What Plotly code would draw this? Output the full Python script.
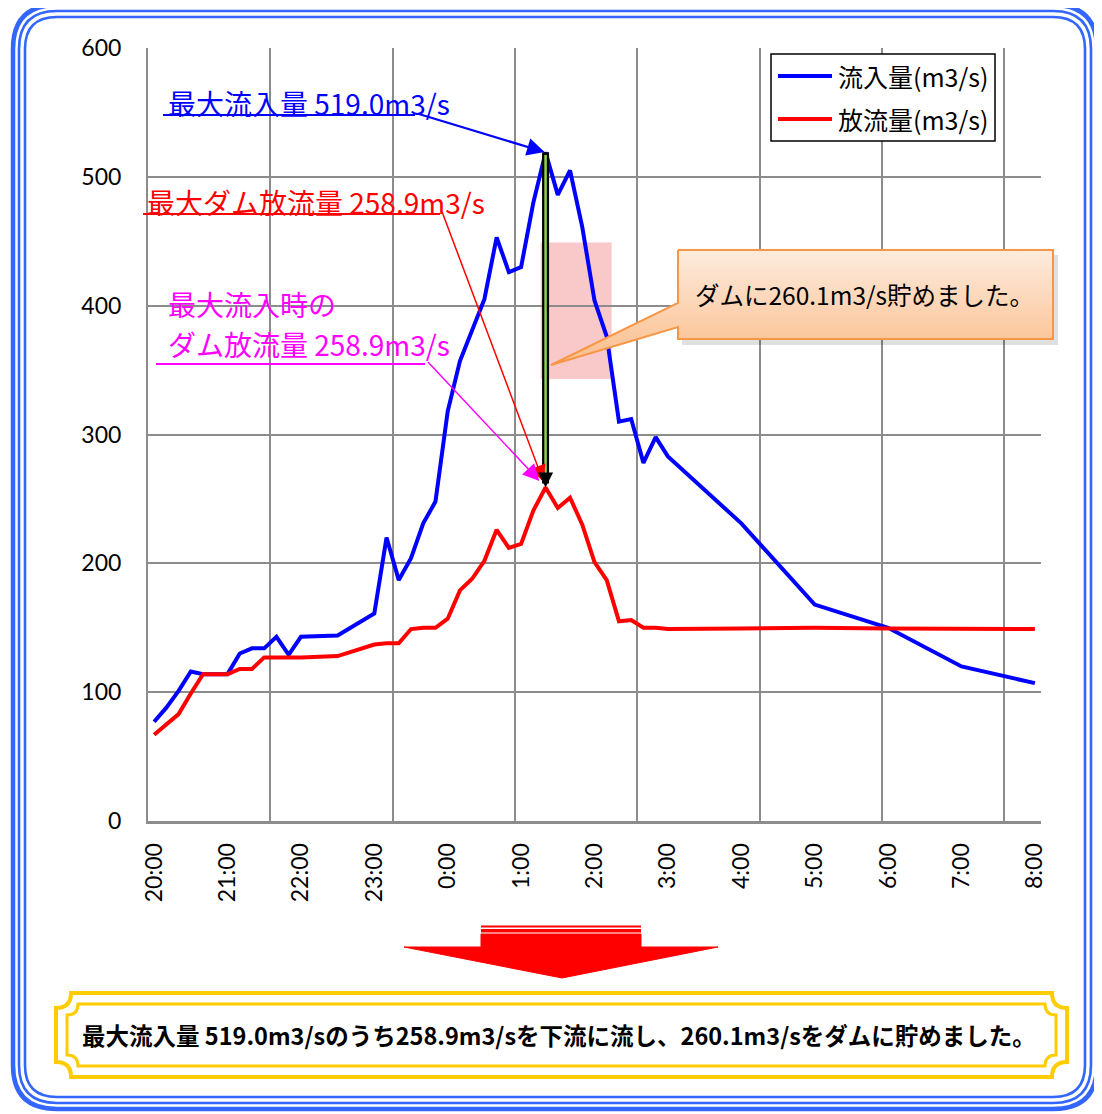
import plotly.graph_objects as go

# ---------------- data ----------------
times = ["20:00", "20:10", "20:20", "20:30", "20:40", "20:50", "21:00", "21:10", "21:20", "21:30",
         "21:40", "21:50", "22:00", "22:30", "23:00", "23:10", "23:20", "23:30", "23:40", "23:50",
         "0:00", "0:10", "0:20", "0:30", "0:40", "0:50", "1:00", "1:10", "1:20", "1:30",
         "1:40", "1:50", "2:00", "2:10", "2:20", "2:30", "2:40", "2:50", "3:00", "4:00",
         "5:00", "6:00", "7:00", "8:00"]
inflow = [77, 88, 101, 116, 114, 114, 114, 130, 134, 134,
          143, 129, 143, 144, 161, 220, 187, 204, 231, 248,
          318, 357, 380, 405, 453, 426, 430, 480, 519.0, 486,
          505, 461, 404, 376, 310, 312, 278, 298, 283, 231,
          168, 150, 120, 107]
outflow = [67, 75, 83, 99, 114, 114, 114, 118, 118, 127,
           127, 127, 127, 128, 137, 138, 138, 149, 150, 150,
           157, 179, 188, 202, 226, 212, 215, 241, 258.9, 243,
           251, 230, 201, 187, 155, 156, 150, 150, 149, 149.5,
           150, 149.5, 149.5, 149]
hour_labels = ["20:00", "21:00", "22:00", "23:00", "0:00", "1:00", "2:00",
               "3:00", "4:00", "5:00", "6:00", "7:00", "8:00"]
y_ticks = [0, 100, 200, 300, 400, 500, 600]
series_names = ["流入量(m3/s)", "放流量(m3/s)"]


def minutes_after_start(t):
    h, m = map(int, t.split(":"))
    return ((h - 20) % 24) * 60 + m


x_min = [minutes_after_start(t) for t in times]
hour_x = [minutes_after_start(t) for t in hour_labels]
grid_x = [-5 + 100 * k for k in range(8)]

peak_i = max(range(len(inflow)), key=lambda i: inflow[i])
peak_t = x_min[peak_i]
peak_in = inflow[peak_i]
peak_out = outflow[peak_i]

# ---------------- layout geometry (window pixels) ----------------
W, H = 1102, 1114          # browser window
OFF = 8                    # default page margin before the figure
FW, FH = W - OFF, H - OFF  # figure size
PL, PR, PT, PB = 148, 1041, 48, 821
CJK = "Noto Sans CJK JP"
GRID = "#8c8c8c"

fig = go.Figure()

fig.add_trace(go.Scatter(x=x_min, y=inflow, mode="lines", name=series_names[0],
                         line=dict(color="#0000ff", width=4), showlegend=False))
fig.add_trace(go.Scatter(x=x_min, y=outflow, mode="lines", name=series_names[1],
                         line=dict(color="#ff0000", width=4), showlegend=False))

# ---------- decoration layer (window-pixel coordinates on a full-figure subplot) ----------
fig.add_trace(go.Scatter(
    x=[682, 1058, 1058, 682, 682], y=[255, 255, 345, 345, 255],
    xaxis="x2", yaxis="y2", mode="lines", fill="toself",
    fillcolor="rgba(0,0,0,0.12)", line=dict(width=0), hoverinfo="skip", showlegend=False))
fig.add_trace(go.Scatter(
    x=[678, 1053, 1053, 678, 678, 551, 678, 678],
    y=[250, 250, 339, 339, 327, 365, 303, 250],
    xaxis="x2", yaxis="y2", mode="lines", fill="toself",
    fillgradient=dict(type="vertical",
                      colorscale=[[0, "#fbbd8a"], [1, "#fdebdd"]]),
    line=dict(color="#f79646", width=2), hoverinfo="skip", showlegend=False))
fig.add_trace(go.Scatter(
    x=[481, 641, 641, 718, 562, 404, 481, 481],
    y=[934, 934, 947, 947, 978, 947, 947, 934],
    xaxis="x2", yaxis="y2", mode="lines", fill="toself", fillcolor="#ff0000",
    line=dict(color="#ff0000", width=1), hoverinfo="skip", showlegend=False))

shapes = []


def rrect(x0, y0, x1, y1, r):
    return (f"M{x0+r},{y0} L{x1-r},{y0} Q{x1},{y0} {x1},{y0+r} L{x1},{y1-r} "
            f"Q{x1},{y1} {x1-r},{y1} L{x0+r},{y1} Q{x0},{y1} {x0},{y1-r} "
            f"L{x0},{y0+r} Q{x0},{y0} {x0+r},{y0} Z")


def notched(x0, y0, x1, y1, r):
    return (f"M{x0+r},{y0} L{x1-r},{y0} Q{x1-r},{y0+r} {x1},{y0+r} L{x1},{y1-r} "
            f"Q{x1-r},{y1-r} {x1-r},{y1} L{x0+r},{y1} Q{x0+r},{y1-r} {x0},{y1-r} "
            f"L{x0},{y0+r} Q{x0+r},{y0+r} {x0+r},{y0} Z")


BLUE_FRAME = "#3366ff"
for (d, r, w) in [(0, 44, 4.5), (6, 38, 2.6), (12, 32, 2.6)]:
    shapes.append(dict(type="path", xref="x2", yref="y2",
                       path=rrect(13 + d, 5 + d, 1097 - d, 1109 - d, r),
                       line=dict(color=BLUE_FRAME, width=w)))

shapes.append(dict(type="path", xref="x2", yref="y2", path=notched(56, 993, 1067, 1077, 15),
                   line=dict(color="#ffcc00", width=4), fillcolor="white"))
shapes.append(dict(type="path", xref="x2", yref="y2", path=notched(67, 1004, 1056, 1066, 11),
                   line=dict(color="#ffcc00", width=3)))

shapes.append(dict(type="rect", xref="x2", yref="y2", x0=481, x1=641, y0=925.5, y1=927.5,
                   fillcolor="#ff0000", line=dict(width=0)))
shapes.append(dict(type="rect", xref="x2", yref="y2", x0=481, x1=641, y0=929, y1=932.5,
                   fillcolor="#ff0000", line=dict(width=0)))

shapes.append(dict(type="rect", xref="x", yref="y", x0=peak_t - 4, x1=peak_t + 54,
                   y0=343, y1=449, fillcolor="#f9c9c9", line=dict(width=0), layer="below"))

shapes.append(dict(type="line", xref="x", yref="y", x0=peak_t, x1=peak_t,
                   y0=peak_in, y1=peak_out + 3, line=dict(color="black", width=7)))
shapes.append(dict(type="line", xref="x", yref="y", x0=peak_t, x1=peak_t,
                   y0=peak_in - 2, y1=peak_out + 5, line=dict(color="#92d050", width=2.5)))

shapes.append(dict(type="line", xref="x2", yref="y2", x0=163, x1=415, y0=115, y1=115,
                   line=dict(color="#0000ff", width=2)))
shapes.append(dict(type="line", xref="x2", yref="y2", x0=143, x1=440, y0=214, y1=214,
                   line=dict(color="#ff0000", width=2)))
shapes.append(dict(type="line", xref="x2", yref="y2", x0=156, x1=425, y0=364, y1=364,
                   line=dict(color="#ff00ff", width=2)))

shapes.append(dict(type="rect", xref="x2", yref="y2", x0=771, x1=995, y0=54, y1=141,
                   fillcolor="white", line=dict(color="black", width=1.5)))
shapes.append(dict(type="line", xref="x2", yref="y2", x0=778, x1=832, y0=76, y1=76,
                   line=dict(color="#0000ff", width=4)))
shapes.append(dict(type="line", xref="x2", yref="y2", x0=778, x1=832, y0=119, y1=119,
                   line=dict(color="#ff0000", width=4)))

ann = []


def label(x, y, text, color, size, anchor="left", family=CJK, bold=False):
    if bold:
        text = f"<b>{text}</b>"
    ann.append(dict(x=x, y=y, xref="x2", yref="y2", text=text, showarrow=False,
                    xanchor=anchor, yanchor="middle",
                    font=dict(family=family, size=size, color=color)))


label(166, 103, f"最大流入量 {peak_in:.1f}m3/s", "#0000ff", 28)
label(145, 202, f"最大ダム放流量 {peak_out:.1f}m3/s", "#ff0000", 28)
label(166, 304, "最大流入時の", "#ff00ff", 28)
label(166, 344, f"ダム放流量 {peak_out:.1f}m3/s", "#ff00ff", 28)
label(864, 294, f"ダムに{peak_in - peak_out:.1f}m3/s貯めました。", "black", 24.5, anchor="center")
label(836, 76, series_names[0], "black", 25)
label(836, 119, series_names[1], "black", 25)
label(559, 1035,
      f"最大流入量 {peak_in:.1f}m3/sのうち{peak_out:.1f}m3/sを下流に流し、"
      f"{peak_in - peak_out:.1f}m3/sをダムに貯めました。",
      "black", 23.5, anchor="center", bold=True)

ann.append(dict(x=peak_t, y=peak_in, xref="x", yref="y", ax=-129, ay=-39, text="",
                showarrow=True, arrowhead=2, arrowsize=1.6, arrowwidth=2.2,
                arrowcolor="#0000ff", standoff=1))
ann.append(dict(x=peak_t, y=peak_out, xref="x", yref="y", ax=-104, ay=-277, text="",
                showarrow=True, arrowhead=2, arrowsize=2.2, arrowwidth=1.5,
                arrowcolor="#ff0000", standoff=6))
ann.append(dict(x=peak_t, y=peak_out, xref="x", yref="y", ax=-119, ay=-127, text="",
                showarrow=True, arrowhead=2, arrowsize=2.2, arrowwidth=1.5,
                arrowcolor="#ff00ff", standoff=9))
ann.append(dict(x=peak_t, y=peak_out, xref="x", yref="y", ax=0, ay=-14, text="",
                showarrow=True, arrowhead=2, arrowsize=1.2, arrowwidth=2.5,
                arrowcolor="black", standoff=0))

TICKFONT = dict(family="Lato", size=23, color="black")

fig.update_layout(
    template="none",
    width=FW, height=FH,
    margin=dict(l=0, r=0, t=0, b=0, pad=0, autoexpand=False),
    paper_bgcolor="white", plot_bgcolor="rgba(0,0,0,0)",
    showlegend=False,
    xaxis=dict(domain=[(PL - OFF) / FW, (PR - OFF) / FW], range=[-5, 725], automargin=False,
               tickmode="array", tickvals=hour_x, ticktext=hour_labels,
               tickangle=-90, ticks="", showgrid=False, zeroline=False,
               showline=True, linecolor=GRID, linewidth=3,
               ticklabelstandoff=10, tickfont=TICKFONT,
               minor=dict(tickmode="array", tickvals=grid_x, showgrid=True,
                          gridcolor=GRID, gridwidth=2, ticks=""),
               anchor="y", fixedrange=True),
    yaxis=dict(domain=[(H - PB) / FH, (H - PT) / FH], range=[0, 600], automargin=False,
               tickmode="array", tickvals=y_ticks, ticks="",
               showgrid=True, gridcolor=GRID, gridwidth=2, zeroline=False,
               showline=True, linecolor=GRID, linewidth=2,
               ticklabelstandoff=20, tickfont=TICKFONT,
               anchor="x", fixedrange=True),
    xaxis2=dict(domain=[0, 1], range=[OFF, W], visible=False, anchor="y2",
                fixedrange=True, automargin=False),
    yaxis2=dict(domain=[0, 1], range=[H, OFF], visible=False, anchor="x2",
                fixedrange=True, automargin=False),
    shapes=shapes,
    annotations=ann,
)

fig.write_html("out.html")
